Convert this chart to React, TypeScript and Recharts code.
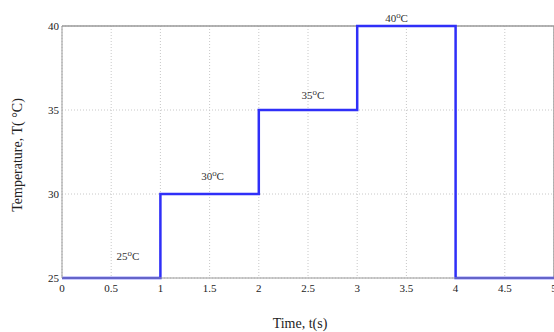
import { CartesianGrid, Line, LineChart, ReferenceDot, ReferenceLine, XAxis, YAxis } from 'recharts';

const times = [0, 1, 2, 3, 4, 5];
const temps = [25, 30, 35, 40, 25, 25];
const xTicks = [0, 0.5, 1, 1.5, 2, 2.5, 3, 3.5, 4, 4.5, 5];
const yTicks = [25, 30, 35, 40];

const noteText = ['25⁰C', '30⁰C', '35⁰C', '40⁰C'];
const noteX = [0.67, 1.53, 2.55, 3.4];
const noteY = [26.3, 31.1, 35.9, 40.5];

const data = times.map((t, i) => ({ t, temp: temps[i] }));
const serif = '"Liberation Serif", "DejaVu Serif", serif';
const frame = '#9a9a9a';
const txt = { fontFamily: serif };

// tick renderers so the serif font sticks
const XTick = ({ x, y, payload }: any) => (
  <text x={x} y={y + 12} textAnchor="middle" style={txt} fontSize={11} fill="#222">
    {payload.value}
  </text>
);

const YTick = ({ x, y, payload }: any) => (
  <text x={x - 1} y={y + 4} textAnchor="end" style={txt} fontSize={11} fill="#222">
    {payload.value}
  </text>
);

const Note = ({ viewBox, value }: any) => (
  <text x={viewBox.cx ?? viewBox.x} y={(viewBox.cy ?? viewBox.y) + 4} textAnchor="middle" style={txt} fontSize={11} fill="#333">
    {value}
  </text>
);

export default function App() {
  return (
    <div style={{ position: 'fixed', left: 0, top: 0, width: 554, height: 332, background: '#fff', overflow: 'hidden', fontFamily: serif }}>
      <LineChart width={554} height={332} data={data} margin={{ top: 26, right: 0, left: 0, bottom: 0 }}>
        <CartesianGrid stroke="#c8c8c8" strokeDasharray="1 2" />
        <XAxis
          dataKey="t"
          type="number"
          domain={[0, 5]}
          ticks={xTicks}
          interval={0}
          height={54}
          tickSize={0}
          stroke={frame}
          tick={XTick}
          label={{
            content: () => (
              <text x={300} y={328} textAnchor="middle" style={txt} fontSize={14} fill="#222">
                Time, t(s)
              </text>
            ),
          }}
        />
        <YAxis
          type="number"
          domain={[25, 40]}
          ticks={yTicks}
          interval={0}
          width={62}
          tickSize={0}
          stroke={frame}
          tick={YTick}
          label={{
            content: () => (
              <text
                x={22}
                y={155}
                textAnchor="middle"
                transform="rotate(-90 22 155)"
                style={txt}
                fontSize={14}
                fill="#222"
              >
                Temperature, T( °C)
              </text>
            ),
          }}
        />
        <ReferenceLine y={40} stroke={frame} strokeWidth={1.5} />
        <ReferenceLine x={5} stroke={frame} strokeWidth={1.5} />
        <Line
          type="stepAfter"
          dataKey="temp"
          stroke="#2f2ff8"
          strokeWidth={2.5}
          dot={false}
          isAnimationActive={false}
        />
        {noteText.map((t, i) => (
          <ReferenceDot
            key={t}
            x={noteX[i]}
            y={noteY[i]}
            r={0}
            ifOverflow="visible"
            label={{ value: t, content: Note }}
          />
        ))}
      </LineChart>
    </div>
  );
}
